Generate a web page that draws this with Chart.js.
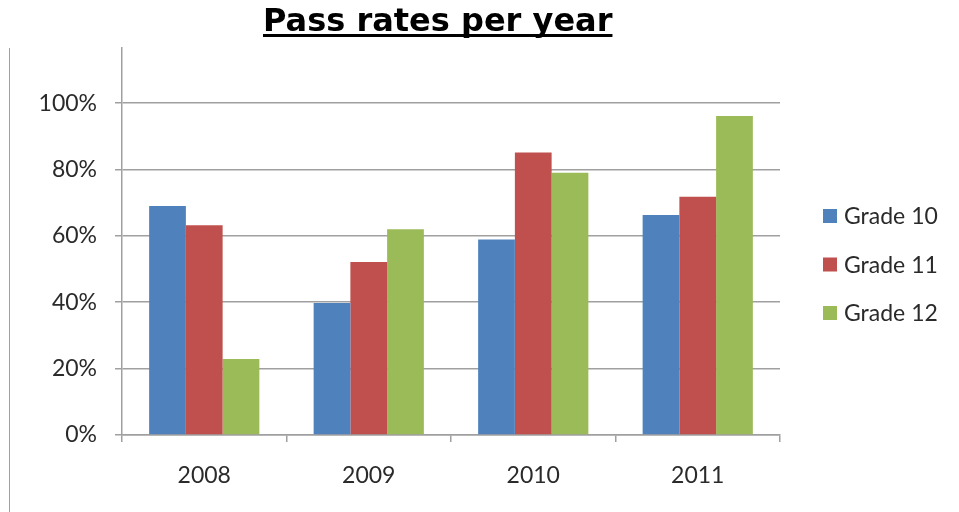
<!DOCTYPE html>
<html>
<head>
<meta charset="utf-8">
<script src="https://cdn.jsdelivr.net/npm/chart.js@4.4.1/dist/chart.umd.min.js"></script>
<style>
  html, body { margin: 0; padding: 0; background: #fff; }
  #wrap { position: relative; width: 959px; height: 512px; }
  #title {
    position: absolute; left: 263px; top: 1px;
    font-family: "DejaVu Sans", sans-serif; font-weight: bold; font-size: 32px;
    text-decoration: underline; text-decoration-thickness: 3px; text-underline-offset: 3px;
    text-decoration-skip-ink: none;
    color: #000; white-space: nowrap;
  }
  #leftline { position: absolute; left: 9px; top: 48px; width: 0; height: 464px; border-left: 1.5px solid #a0a0a0; }
  canvas { position: absolute; left: 0; top: 0; }
</style>
</head>
<body>
<div id="wrap">
  <canvas id="passChart" width="959" height="512"></canvas>
  <div id="title">Pass rates per year</div>
  <div id="leftline"></div>
</div>
<script>
const years = ['2008', '2009', '2010', '2011'];
const grade10 = [69, 39.8, 58.9, 66.3];
const grade11 = [63.2, 52.1, 85.1, 71.8];
const grade12 = [22.9, 62, 79, 96.1];
const seriesNames = ['Grade 10', 'Grade 11', 'Grade 12'];
const seriesColors = ['#4F81BD', '#C0504D', '#9BBB59'];
const yTicks = [0, 20, 40, 60, 80, 100];

const labelFont = { family: 'Lato', size: 23 };
const gridColor = '#a0a0a0';

// legend drawn on the canvas, to the right of the plot
const sideLegend = {
    id: 'sideLegend',
    afterDraw(chart) {
        const c = chart.ctx;
        c.save();
        c.font = '23px Lato';
        c.textBaseline = 'middle';
        chart.data.datasets.forEach((ds, i) => {
            const y = 216 + i * 48.5;
            c.fillStyle = ds.backgroundColor;
            c.fillRect(823, y - 7, 14, 14);
            c.fillStyle = '#2a2a2a';
            c.fillText(ds.label, 844, y + 1);
        });
        c.restore();
    }
};

const ctx = document.getElementById('passChart').getContext('2d');
const chart = new Chart(ctx, {
    type: 'bar',
    data: {
        labels: years,
        datasets: [grade10, grade11, grade12].map((vals, i) => ({
            label: seriesNames[i],
            data: vals,
            backgroundColor: seriesColors[i],
            borderWidth: 0,
            barPercentage: 1,
            categoryPercentage: 0.67
        }))
    },
    options: {
        responsive: false,
        animation: false,
        layout: { padding: { top: 48, right: 179, bottom: 0, left: 0 } },
        plugins: {
            legend: { display: false },
            title: { display: false },
            tooltip: { enabled: false }
        },
        scales: {
            x: {
                afterFit(scale) { scale.height = 77; },
                border: { display: true, color: gridColor, width: 1.5 },
                grid: { drawOnChartArea: false, offset: true, tickLength: 7, color: gridColor, lineWidth: 1.5 },
                ticks: { font: labelFont, color: '#2a2a2a', padding: 20 }
            },
            y: {
                min: 0,
                max: 116.6,
                afterFit(scale) { scale.width = 122; },
                afterBuildTicks(scale) { scale.ticks = yTicks.map(v => ({ value: v })); },
                border: { display: true, color: gridColor, width: 1.5 },
                grid: { color: gridColor, lineWidth: 1.5, tickLength: 7 },
                ticks: { font: labelFont, color: '#2a2a2a', padding: 18, callback: v => v + '%' }
            }
        }
    },
    plugins: [sideLegend]
});
</script>
</body>
</html>
